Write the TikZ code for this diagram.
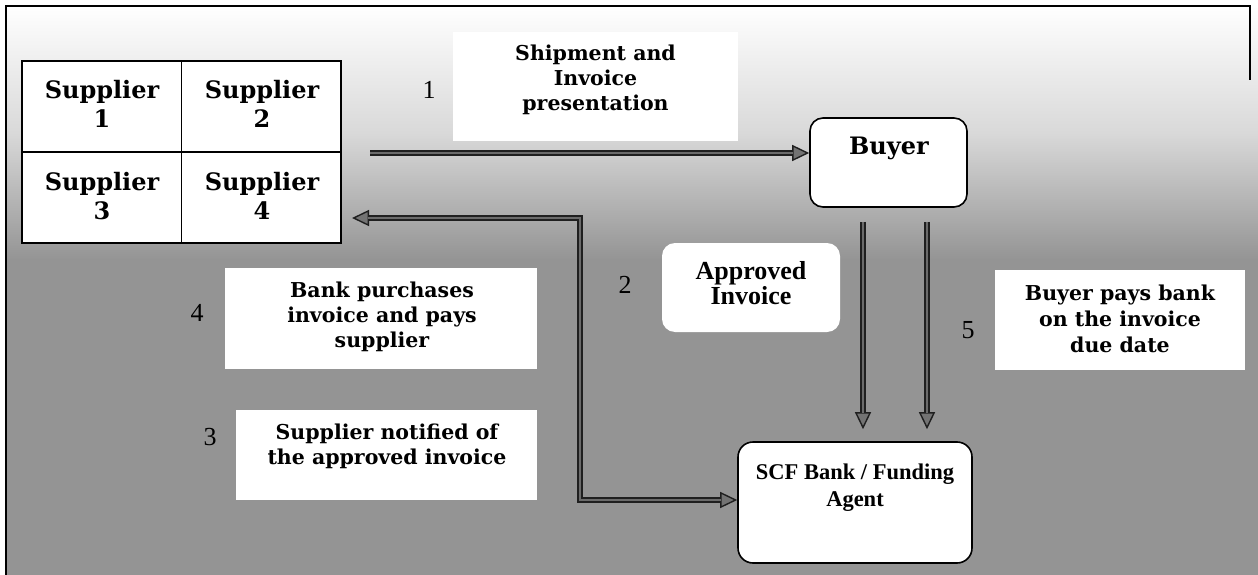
\documentclass[tikz,border=0pt]{standalone}
\usepackage{fontspec}
\setmainfont{Liberation Serif}
\newfontfamily\geo{DejaVu Serif}
\usetikzlibrary{arrows.meta}
\begin{document}
\begin{tikzpicture}[x=1pt,y=-1pt,
  tbox/.style={fill=white, inner sep=0pt, rectangle},
  rbox/.style={fill=white, draw=black, line width=1.6pt, rounded corners=13pt, inner sep=0pt},
  wbox/.style={fill=white, rounded corners=13pt, inner sep=0pt},
  gtxt/.style={font=\geo\bfseries\fontsize{20.5}{25}\selectfont, align=center, inner sep=0pt},
  stxt/.style={font=\geo\bfseries\fontsize{24}{29}\selectfont, align=center, inner sep=0pt},
  ttxt/.style={font=\bfseries\fontsize{26}{25}\selectfont, align=center, inner sep=0pt},
  num/.style={font=\fontsize{26}{26}\selectfont, inner sep=0pt},
  arrout/.style={draw=black!88, line width=6pt},
  arrin/.style={draw=black!58, line width=2pt},
  tipend/.style={-{Triangle[length=17pt,width=16pt,line width=1.4pt,fill=black!55]}},
  tipboth/.style={{Triangle[length=17pt,width=16pt,line width=1.4pt,fill=black!55]}-{Triangle[length=17pt,width=16pt,line width=1.4pt,fill=black!55]}},
]
\useasboundingbox (0,0) rectangle (1258,575);
% background
\fill[black!42] (6,6) rectangle (1258,575);
\shade[top color=white, bottom color=black!42, middle color=black!15] (6,6) rectangle (1258,260);
\draw[line width=1.5pt] (6,575) -- (6,6) -- (1250,6) -- (1250,80);

% supplier grid
\node[draw=black, line width=1.6pt, fill=white, minimum width=319pt, minimum height=182pt, inner sep=0pt] (grid) at (181.5,152) {};
\draw[line width=1.6pt] (grid.north) -- (grid.south);
\draw[line width=1.6pt] (grid.west) -- (grid.east);
\node[stxt] (s1) at (102,104) {Supplier\\1};
\node[stxt] (s2) at (262,104) {Supplier\\2};
\node[stxt] (s3) at (102,196) {Supplier\\3};
\node[stxt] (s4) at (262,196) {Supplier\\4};

% boxes
\node[tbox, minimum width=285pt, minimum height=109pt] (ship) at (595.5,86.5) {};
\node[gtxt] (shipT) at (595.5,80) {Shipment and\\Invoice\\presentation};
\node[rbox, minimum width=157pt, minimum height=89pt] (buyer) at (888.5,162.5) {};
\node[font=\geo\bfseries\fontsize{24}{28}\selectfont, inner sep=0pt] (buyerT) at (889,148) {Buyer};
\node[wbox, minimum width=178pt, minimum height=89pt] (appr) at (751,287.5) {};
\node[ttxt] (apprT) at (751,283) {Approved\\Invoice};
\node[tbox, minimum width=312pt, minimum height=101pt] (bank) at (381,318.5) {};
\node[gtxt] (bankT) at (382,317) {Bank purchases\\invoice and pays\\supplier};
\node[tbox, minimum width=301pt, minimum height=90pt] (noti) at (386.5,455) {};
\node[gtxt] (notiT) at (387,446) {Supplier notified of\\the approved invoice};
\node[tbox, minimum width=250pt, minimum height=100pt] (pays) at (1120,320) {};
\node[gtxt, font=\geo\bfseries\fontsize{20.5}{26}\selectfont] (paysT) at (1120,319) {Buyer pays bank\\on the invoice\\due date};
\node[rbox, minimum width=234pt, minimum height=121pt, rounded corners=15pt] (scf) at (855,502.5) {};
\node[font=\bfseries\fontsize{22.5}{27}\selectfont, align=center, inner sep=0pt] (scfT) at (855,488) {SCF Bank / Funding\\Agent};

% numbers
\node[num] (n1) at (429,90) {1};
\node[num] (n2) at (625,285) {2};
\node[num] (n3) at (210,437) {3};
\node[num] (n4) at (197,313) {4};
\node[num] (n5) at (968,330) {5};

% connectors
\coordinate (a1) at (370,153);
\draw[arrout,tipend] (a1) -- (a1 -| buyer.west);
\draw[arrin, shorten >=16pt] (a1) -- (a1 -| buyer.west);

\coordinate (e2) at (352,218);
\coordinate (k1) at (580,218);
\coordinate (k2) at (580,500);
\draw[arrout,tipboth,line join=miter] (e2) -- (k1) -- (k2) -- (k2 -| scf.west);
\draw[arrin, shorten >=16pt, shorten <=16pt, line join=miter] (e2) -- (k1) -- (k2) -- (k2 -| scf.west);

\coordinate (v1) at (863,0);
\coordinate (v2) at (927,0);
\draw[arrout,tipend, shorten <=14pt, shorten >=12pt] (buyer.south -| v1) -- (scf.north -| v1);
\draw[arrin, shorten <=14pt, shorten >=28pt] (buyer.south -| v1) -- (scf.north -| v1);
\draw[arrout,tipend, shorten <=14pt, shorten >=12pt] (buyer.south -| v2) -- (scf.north -| v2);
\draw[arrin, shorten <=14pt, shorten >=28pt] (buyer.south -| v2) -- (scf.north -| v2);
\end{tikzpicture}
\end{document}
